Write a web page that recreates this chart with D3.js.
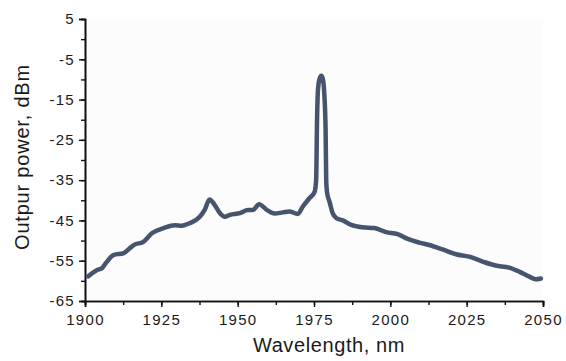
<!DOCTYPE html>
<html>
<head>
<meta charset="utf-8">
<script src="https://cdn.jsdelivr.net/npm/d3@7"></script>
<style>
  html, body { margin: 0; padding: 0; background: #ffffff; }
  svg { display: block; font-family: "Liberation Sans", Arial, sans-serif; }
</style>
</head>
<body>
<svg id="chart" width="566" height="361"></svg>
<script>
// Emission spectrum: wavelength (nm) and output power (dBm)
const wavelength = [
  1901.0, 1904.0, 1905.5, 1906.8, 1909.3, 1912.7, 1915.3, 1916.0, 1919.1, 1921.9,
  1925.8, 1929.4, 1931.7, 1934.3, 1937.6, 1939.2, 1940.8, 1942.5, 1944.1, 1945.8,
  1947.4, 1950.7, 1953.4, 1955.0, 1957.0, 1959.4, 1962.1, 1964.8, 1967.0, 1969.7,
  1971.3, 1973.5, 1975.2, 1975.7, 1976.0, 1976.3, 1976.8, 1977.4, 1977.9, 1978.4,
  1978.8, 1979.0, 1979.3, 1980.1, 1981.1, 1982.3, 1984.4, 1987.2, 1990.9, 1994.8,
  1998.6, 2002.4, 2005.7, 2009.5, 2012.7, 2017.1, 2021.5, 2025.8, 2030.2, 2034.5,
  2038.9, 2042.2, 2045.4, 2047.6, 2049.3
];
const power = [
  -58.9, -57.3, -56.9, -55.6, -53.6, -53.1, -51.5, -51.1, -50.3, -48.2,
  -46.9, -46.2, -46.3, -45.7, -44.1, -42.4, -39.8, -41.2, -43.1, -44.1,
  -43.6, -43.2, -42.4, -42.4, -41.0, -42.3, -43.3, -43.0, -42.8, -43.4,
  -41.6, -39.5, -37.9, -35.0, -20.0, -12.6, -9.9, -9.1, -9.9, -13.9,
  -22.5, -35.0, -38.2, -40.4, -43.2, -44.4, -45.0, -46.1, -46.7, -46.9,
  -47.9, -48.4, -49.6, -50.5, -51.1, -52.2, -53.4, -54.0, -55.2, -56.2,
  -56.7, -57.7, -58.9, -59.6, -59.4
];
const xTicks = [1900, 1925, 1950, 1975, 2000, 2025, 2050];
const yTicks = [5, -5, -15, -25, -35, -45, -55, -65];
const xLabel = "Wavelength, nm";
const yLabel = "Outpur power, dBm";

const svg = d3.select("#chart");
const W = 566, H = 361;
const margin = { top: 19, right: 23, bottom: 60, left: 85 };
const iw = W - margin.left - margin.right;
const ih = H - margin.top - margin.bottom;

const x = d3.scaleLinear().domain([1900, 2050]).range([0, iw]);
const y = d3.scaleLinear().domain([-65, 5]).range([ih, 0]);

const g = svg.append("g").attr("transform", `translate(${margin.left},${margin.top})`);

// faint plot-area fill
g.append("rect").attr("width", iw).attr("height", ih).attr("fill", "#fcfcfc");

// minor ticks
const xMinor = d3.range(1900, 2050.1, 12.5);
const yMinor = d3.range(-65, 5.1, 5);

// plain hyphen-minus for negative numbers
const fmt = d => String(d);

const xAxisMinor = d3.axisBottom(x).tickValues(xMinor).tickSize(4).tickFormat("");
const yAxisMinor = d3.axisLeft(y).tickValues(yMinor).tickSize(4).tickFormat("");
const xAxis = d3.axisBottom(x).tickValues(xTicks).tickSize(6).tickPadding(4).tickFormat(fmt);
const yAxis = d3.axisLeft(y).tickValues(yTicks).tickSize(6).tickPadding(4).tickFormat(fmt);

function styleAxis(sel) {
  sel.selectAll("path").attr("stroke", "#111").attr("stroke-width", 1.6);
  sel.selectAll("line").attr("stroke", "#111").attr("stroke-width", 1.4);
  sel.selectAll("text")
    .attr("fill", "#1a1a1a")
    .style("font-size", "15px")
    .style("letter-spacing", "1.3px");
}

g.append("g").attr("transform", `translate(0,${ih})`).call(xAxisMinor).call(styleAxis);
g.append("g").call(yAxisMinor).call(styleAxis);
const gx = g.append("g").attr("transform", `translate(0,${ih})`).call(xAxis).call(styleAxis);
const gy = g.append("g").call(yAxis).call(styleAxis);
gx.selectAll("text").attr("dy", "0.95em");

// spectrum trace
const pts = wavelength.map((w, i) => [w, power[i]]);
const line = d3.line()
  .x(d => x(d[0]))
  .y(d => y(d[1]))
  .curve(d3.curveMonotoneX);

g.append("path")
  .datum(pts)
  .attr("d", line)
  .attr("fill", "none")
  .attr("stroke", "#46546e")
  .attr("stroke-width", 4.5)
  .attr("stroke-linejoin", "round")
  .attr("stroke-linecap", "round");

// axis titles
svg.append("text")
  .attr("x", margin.left + iw / 2 + 15)
  .attr("y", 352)
  .attr("text-anchor", "middle")
  .attr("fill", "#1a1a1a")
  .style("font-size", "20px")
  .style("letter-spacing", "0.6px")
  .text(xLabel);

svg.append("text")
  .attr("transform", `translate(29,${margin.top + ih / 2 - 3}) rotate(-90)`)
  .attr("text-anchor", "middle")
  .attr("fill", "#1a1a1a")
  .style("font-size", "20px")
  .style("letter-spacing", "0.8px")
  .text(yLabel);
</script>
</body>
</html>
